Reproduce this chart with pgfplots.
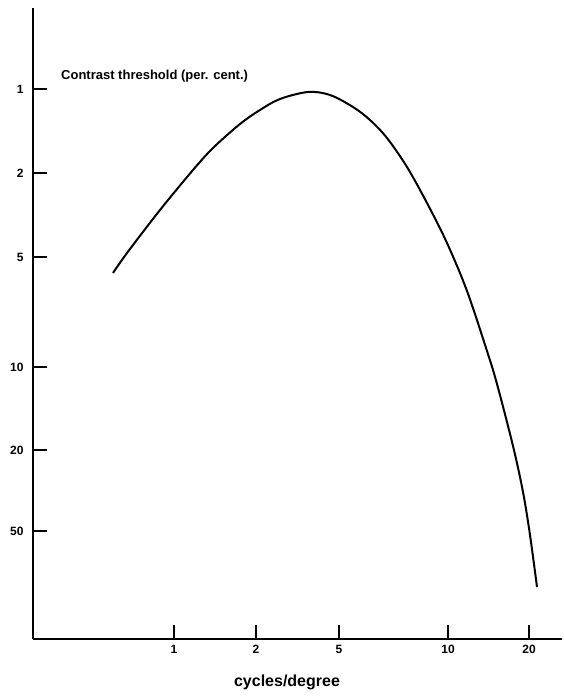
\documentclass[border=0pt]{standalone}
\usepackage{fontspec}
\setmainfont{Liberation Sans}
\usepackage{pgfplots}
\pgfplotsset{compat=1.18}

% curve traced in picture units (x right, y up from the bottom edge)
\pgfplotstableread{
x   y
113 424
127 444
160 487
193 527
213 549
240 573
260 587
280 598
308 605
330 602
353 590
370 577
387 559
407 530
427 494
447 454
467 406
487 346
497 313
513 251
523 205
530 162
537 110
}\threshold

\begin{document}
\begin{tikzpicture}
\begin{axis}[
  scale only axis,
  width=529pt, height=631pt,
  xmin=33, xmax=562,
  ymin=58, ymax=689,
  axis x line=bottom,
  axis y line=left,
  axis line style={-, line width=2.4pt},
  clip=false,
  tick align=inside,
  major tick length=14pt,
  every tick/.style={line width=2pt, black},
  xtick={174,256,339,448,529},
  xticklabels={1,2,5,10,20},
  ytick={166,247,330,440,524,608},
  yticklabels={50,20,10,5,2,1},
  ticklabel style={font=\bfseries\fontsize{12}{14}\selectfont},
  xticklabel style={yshift=-3pt},
  yticklabel style={xshift=-6pt},
  xlabel={cycles/degree},
  xlabel style={font=\bfseries\fontsize{16}{18}\selectfont, at={(axis cs:287,15)}, anchor=center},
]
\path (axis cs:0,0) rectangle (axis cs:562,697);
\addplot[black, line width=2pt, smooth, tension=0.55] table {\threshold};
\node[anchor=west, font=\bfseries\fontsize{13}{15}\selectfont, inner sep=0pt]
  at (axis cs:61,621) {Contrast threshold (per. cent.)};
\end{axis}
\end{tikzpicture}
\end{document}
